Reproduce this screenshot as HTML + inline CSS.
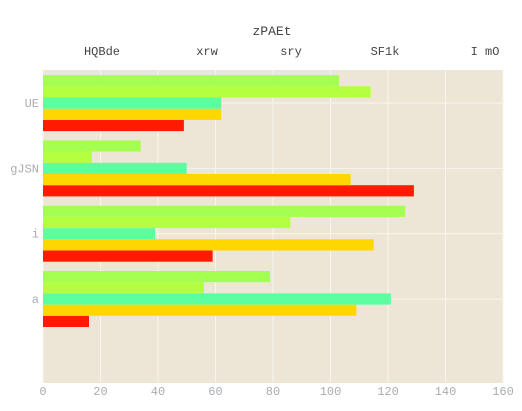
<!DOCTYPE html>
<html><head><meta charset="utf-8"><style>
body{margin:0;background:#fff;width:522px;height:406px;overflow:hidden}
svg text{font-family:"Liberation Mono",monospace}
</style></head><body>
<svg width="522" height="406">
<g id="g"></g>
</svg>
<script>
const categories=["a","i","gJSN","UE"];
const seriesNames=["HQBde","xrw","sry","SF1k","I mO"];
const s1=[16,59,129,49];   // red
const s2=[109,115,107,62]; // yellow
const s3=[121,39,50,62];   // cyan
const s4=[56,86,17,114];   // lime
const s5=[79,126,34,103];  // green
const xTicks=[0,20,40,60,80,100,120,140,160];
const series=[s1,s2,s3,s4,s5];
const colors=["#ff1a00","#ffd700","#5cffa0","#b4ff40","#a4ff50"];
const NS="http://www.w3.org/2000/svg";
const g=document.getElementById('g');
const L=43,R=503,T=70,B=383;
const x=v=>L+(v/160)*(R-L);
const yc=i=>298-i*65.3;
const bh=11.2;
function mk(t,a,p){const e=document.createElementNS(NS,t);for(const k in a)e.setAttribute(k,a[k]);(p||g).appendChild(e);return e;}
const bg=mk('rect',{x:L,y:T,width:R-L,height:B-T,fill:'#ede6d6'});


xTicks.forEach(t=>{
 const l=mk('line',{x1:x(t),x2:x(t),y1:T,y2:B,stroke:'#f8f5ee','stroke-width':1});
 
 
 const tx=mk('text',{x:x(t),y:395,'text-anchor':'middle','font-size':12,fill:'#a8adb2'});
 tx.textContent=t;
 
 
});
categories.forEach((c,i)=>{
 const l=mk('line',{x1:L,x2:R,y1:yc(i)+1,y2:yc(i)+1,stroke:'#f8f5ee','stroke-width':1});
 
 
 const tx=mk('text',{x:39,y:yc(i)+5,'text-anchor':'end','font-size':12,fill:'#a8adb2'});
 tx.textContent=c;
 
 
 series.forEach((s,k)=>{
  const top=yc(i)+1+2.5*bh-(k+1)*bh;
  const r=mk('rect',{x:L,y:top,width:x(s[i])-L,height:bh,fill:colors[k]});
  
  
 });
});
const title=mk('text',{x:272,y:35,'text-anchor':'middle','font-size':13,fill:'#444'});
title.textContent='zPAEt';


const lx=[102,207,291,385,485];
seriesNames.forEach((n,k)=>{
 const t=mk('text',{x:lx[k],y:55,'text-anchor':'middle','font-size':12,fill:'#444'});
 t.textContent=n;
 
 
});
</script>
</body></html>
